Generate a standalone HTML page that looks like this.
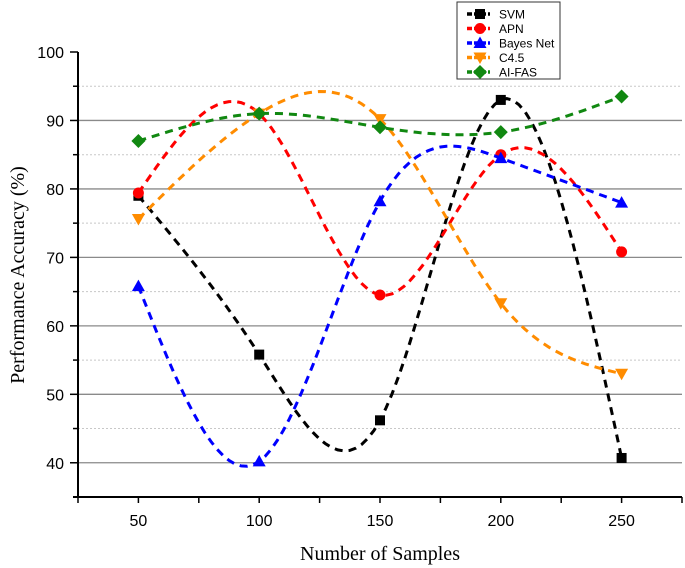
<!DOCTYPE html>
<html><head><meta charset="utf-8"><style>
html,body{margin:0;padding:0;background:#fff;}
svg{display:block;}
</style></head><body>
<svg id="chart" width="685" height="568" xmlns="http://www.w3.org/2000/svg">
<g id="grid"></g>
<g id="axes"></g>
<g id="series"></g>
<text x="380" y="560" text-anchor="middle" font-family="Liberation Serif, serif" font-size="20" fill="#000">Number of Samples</text>
<text transform="translate(24,275) rotate(-90)" text-anchor="middle" font-family="Liberation Serif, serif" font-size="20" fill="#000">Performance Accuracy (%)</text>
<g id="legend"></g>
</svg>
<script>
const categories=[50,100,150,200,250];
const svmValues=[79,55.8,46.2,93,40.7];
const apnValues=[79.4,91,64.5,85,70.8];
const bayesValues=[65.8,40.2,78.2,84.5,78];
const c45Values=[75.6,91,90.2,63.3,53];
const aifasValues=[87,91,89,88.3,93.5];
const seriesNames=["SVM","APN","Bayes Net","C4.5","AI-FAS"];
const xTicks=[50,100,150,200,250];
const yTicks=[40,50,60,70,80,90,100];

const NS="http://www.w3.org/2000/svg";
const X0=78,X1=682,Y0=497,Y1=52;
const xMin=25,xMax=275,yMin=35,yMax=100;
function xs(v){return X0+(v-xMin)/(xMax-xMin)*(X1-X0);}
function ys(v){return Y0-(v-yMin)/(yMax-yMin)*(Y0-Y1);}
function mk(tag,attrs,parent){const e=document.createElementNS(NS,tag);for(const k in attrs)e.setAttribute(k,attrs[k]);parent.appendChild(e);return e;}

const grid=document.getElementById('grid');
for(let v=40;v<=95;v+=5){
  const major=v%10===0;
  const l=mk('line',{x1:X0,x2:X1,y1:ys(v),y2:ys(v),stroke:major?'#8a8a8a':'#c8c8c8','stroke-width':major?1.3:1,'stroke-dasharray':major?'none':'2,2'},grid);
  
  
}
const axes=document.getElementById('axes');
mk('line',{x1:X0,x2:X0,y1:Y1,y2:Y0,stroke:'#000','stroke-width':2},axes);
mk('line',{x1:X0-5,x2:X1,y1:Y0,y2:Y0,stroke:'#000','stroke-width':2},axes);
for(let v=40;v<=100;v+=5){
  const major=v%10===0;
  mk('line',{x1:X0-(major?8:5),x2:X0,y1:ys(v),y2:ys(v),stroke:'#000','stroke-width':1.5},axes);
}
yTicks.forEach(v=>{
  const t=mk('text',{x:X0-14,y:ys(v)+6,'text-anchor':'end','font-family':'Liberation Sans, sans-serif','font-size':16},axes);
  t.textContent=v;
  
  
});
for(let v=25;v<=275;v+=25){
  mk('line',{x1:xs(v),x2:xs(v),y1:Y0,y2:Y0+6,stroke:'#000','stroke-width':1.5},axes);
}
xTicks.forEach(v=>{
  const t=mk('text',{x:xs(v),y:Y0+29,'text-anchor':'middle','font-family':'Liberation Sans, sans-serif','font-size':16},axes);
  t.textContent=v;
  
  
});

function spline(xv,yv){
  const n=xv.length,h=[],a=[],l=[1],mu=[0],z=[0],c=new Array(n).fill(0),b=[],d=[];
  for(let i=0;i<n-1;i++)h[i]=xv[i+1]-xv[i];
  for(let i=1;i<n-1;i++)a[i]=3/h[i]*(yv[i+1]-yv[i])-3/h[i-1]*(yv[i]-yv[i-1]);
  for(let i=1;i<n-1;i++){l[i]=2*(xv[i+1]-xv[i-1])-h[i-1]*mu[i-1];mu[i]=h[i]/l[i];z[i]=(a[i]-h[i-1]*z[i-1])/l[i];}
  for(let j=n-2;j>=0;j--){c[j]=z[j]-mu[j]*c[j+1];b[j]=(yv[j+1]-yv[j])/h[j]-h[j]*(c[j+1]+2*c[j])/3;d[j]=(c[j+1]-c[j])/(3*h[j]);}
  const pts=[];
  for(let i=0;i<n-1;i++)for(let s=0;s<=20;s++){const t=h[i]*s/20;pts.push([xv[i]+t,yv[i]+b[i]*t+c[i]*t*t+d[i]*t*t*t]);}
  return pts;
}
function marker(g,shape,cx,cy,color,s){
  let e;
  if(shape==='square')e=mk('rect',{x:cx-s,y:cy-s,width:2*s,height:2*s,fill:color},g);
  else if(shape==='circle')e=mk('circle',{cx:cx,cy:cy,r:s+0.5,fill:color},g);
  else if(shape==='up')e=mk('polygon',{points:`${cx},${cy-s-1.5} ${cx-s-1.5},${cy+s} ${cx+s+1.5},${cy+s}`,fill:color},g);
  else if(shape==='down')e=mk('polygon',{points:`${cx},${cy+s+1.5} ${cx-s-1.5},${cy-s} ${cx+s+1.5},${cy-s}`,fill:color},g);
  else e=mk('polygon',{points:`${cx},${cy-s-2} ${cx+s+2},${cy} ${cx},${cy+s+2} ${cx-s-2},${cy}`,fill:color},g);
  return e;
}
const allValues=[svmValues,apnValues,bayesValues,c45Values,aifasValues];
const colors=['#000','#ff0000','#0000ff','#ff8c00','#118811'];
const shapes=['square','circle','up','down','diamond'];
const sg=document.getElementById('series');
allValues.forEach((vals,k)=>{
  const g=mk('g',{},sg);
  
  
  const pts=spline(categories,vals);
  const d=pts.map((p,i)=>(i?'L':'M')+xs(p[0]).toFixed(1)+','+ys(p[1]).toFixed(1)).join('');
  const path=mk('path',{d:d,fill:'none',stroke:colors[k],'stroke-width':3,'stroke-dasharray':'8,6'},g);
  
  
  vals.forEach((v,i)=>{
    const m=marker(g,shapes[k],xs(categories[i]),ys(v),colors[k],5);
    
    
  });
});
const lg=document.getElementById('legend');
mk('rect',{x:457,y:2,width:103,height:77,fill:'#fff',stroke:'#333','stroke-width':1},lg);
seriesNames.forEach((n,k)=>{
  const y=14+k*14.5;
  const e=mk('g',{},lg);
  
  
  mk('line',{x1:467,x2:490,y1:y,y2:y,stroke:colors[k],'stroke-width':3.5,'stroke-dasharray':'5,2'},e);
  marker(e,shapes[k],480,y,colors[k],5);
  const t=mk('text',{x:499,y:y+4.5,'font-family':'Liberation Sans, sans-serif','font-size':12},e);
  t.textContent=n;
});
</script>
</body></html>
